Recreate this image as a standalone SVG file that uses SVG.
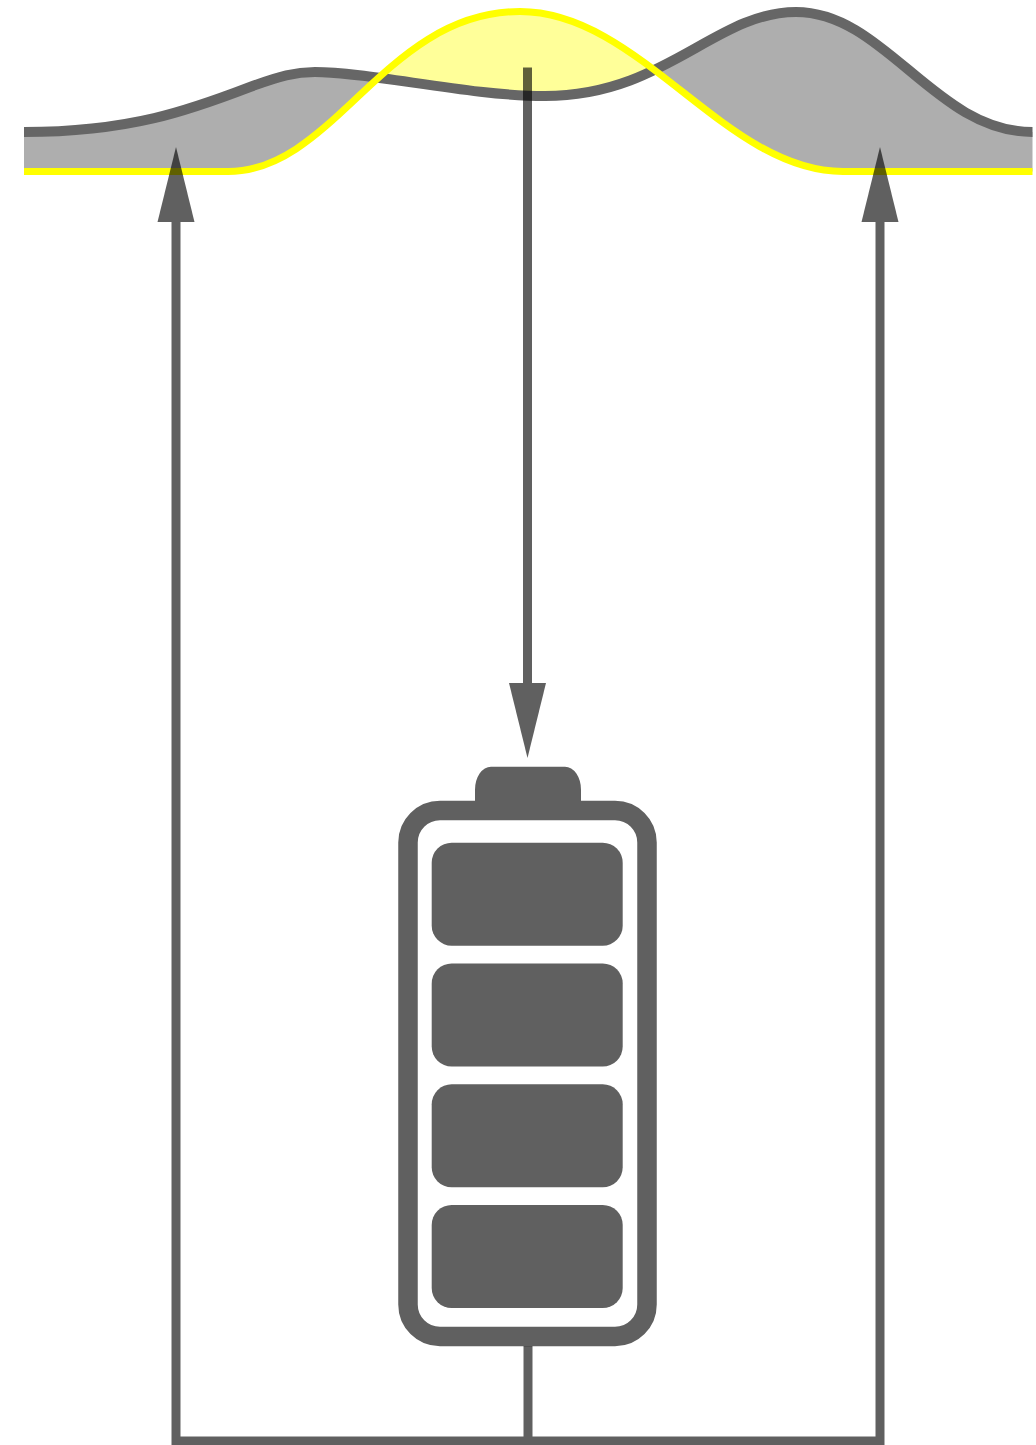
<svg xmlns="http://www.w3.org/2000/svg" xmlns:xlink="http://www.w3.org/1999/xlink" width="1036" height="1445" viewBox="0 0 1036 1445">
<style>
.c{fill:none;stroke:#000;stroke-width:9}
.d{fill:#606060}
</style>
<defs>
<marker id="a" markerUnits="userSpaceOnUse" markerWidth="76" markerHeight="38" refX="0" refY="19" orient="auto-start-reverse" viewBox="0 0 76 38"><path d="M0 .5L75 19L0 37.5Z" fill="#000"/></marker>
<path id="r" d="M24 132C130 132 190 110 250 87C280 76 295 72 315 72C370 72 470 96 545 96C665 96 715 12 796 12C885 12 935 132 1032.500 132V171.500H843C725 171.500 640 11.500 520 11.500C385 11.500 335 171.500 228 171.500H24Z"/>
<clipPath id="g"><path d="M0 0H378V200H0ZM657 0H1036V200H657Z"/></clipPath>
<clipPath id="y"><rect x="378" y="0" width="279" height="200"/></clipPath>
</defs>
<rect width="1036" height="1445" fill="#fff"/>
<g id="wave">
<use xlink:href="#r" href="#r" fill="#aeaeae" fill-rule="evenodd" clip-path="url(#g)"/>
<use xlink:href="#r" href="#r" fill="#ffff99" fill-rule="evenodd" clip-path="url(#y)"/>
<path d="M24 132C130 132 190 110 250 87C280 76 295 72 315 72C370 72 470 96 545 96C665 96 715 12 796 12C885 12 935 132 1032.500 132" fill="none" stroke="#666" stroke-width="10"/>
<path d="M24 171.500H228C335 171.500 385 11.500 520 11.500C640 11.500 725 171.500 843 171.500H1032.500" fill="none" stroke="#ff0" stroke-width="7"/>
</g>
<g id="battery">
<rect x="408" y="810.500" width="239" height="526" rx="32" fill="#fff" stroke="#606060" stroke-width="19.500"/>
<path class="d" d="M475 802V790A16 23 0 0 1 491 766.700H565A16 23 0 0 1 581 790V802Z"/>
<rect class="d" x="431.700" y="842.700" width="191" height="103" rx="20"/>
<rect class="d" x="431.700" y="963.500" width="191" height="103" rx="20"/>
<rect class="d" x="431.700" y="1084.300" width="191" height="103" rx="20"/>
<rect class="d" x="431.700" y="1205" width="191" height="103" rx="20"/>
</g>
<g id="connectors" opacity="0.62">
<path class="c" d="M527.500 67.500V683" marker-end="url(#a)"/>
<path class="c" d="M176 222V1441H880V222" marker-start="url(#a)" marker-end="url(#a)"/>
<path class="c" d="M528 1346V1441"/>
</g>
</svg>
